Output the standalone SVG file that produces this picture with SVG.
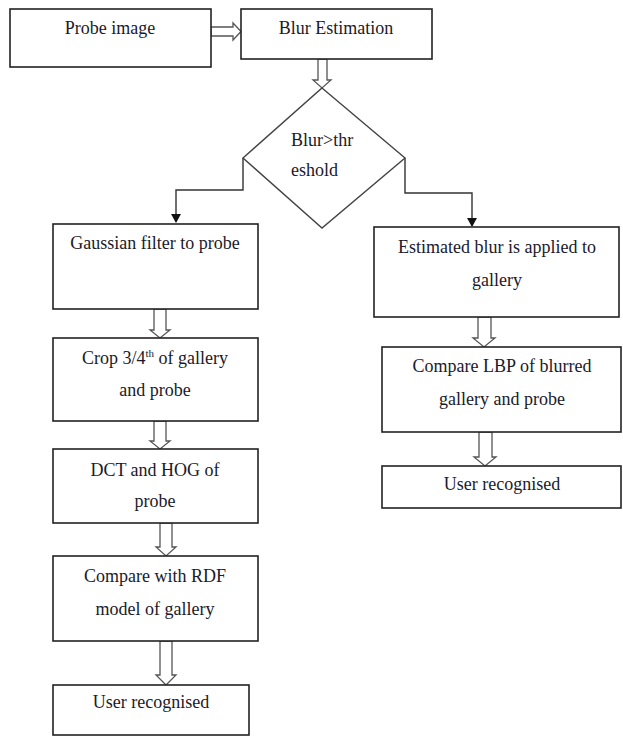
<svg xmlns="http://www.w3.org/2000/svg" width="623" height="738" viewBox="0 0 623 738">
<style>
.box{fill:#fff;stroke:#222;stroke-width:1.6}
.t{font-family:"Liberation Serif","Times New Roman",serif;font-size:18px;fill:#1a1a2a;text-anchor:middle}
.s{text-anchor:start}
.ha{fill:#fff;stroke:#555;stroke-width:1.3}
.ln{fill:none;stroke:#333;stroke-width:1.4}
</style>
<defs>
<marker id="ah" markerWidth="10" markerHeight="10" refX="8" refY="5" orient="auto" markerUnits="userSpaceOnUse">
<path d="M0,0 L9,5 L0,10 Z" fill="#111"/>
</marker>
</defs>
<rect width="623" height="738" fill="#fff"/>
<g id="connectors">
<polygon class="ha" points="211,27 233,27 233,23 241,31.5 233,40 233,36 211,36"/>
<polygon class="ha" points="318,59 327,59 327,80 331,80 322,88 313,80 318,80"/>
<polyline class="ln" points="243,158 243,190 176,190 176,222" marker-end="url(#ah)"/>
<polyline class="ln" points="405,158 405,193 472,193 472,226" marker-end="url(#ah)"/>
<polygon class="ha" points="154,309 166,309 166,330 170,330 160,338 150,330 154,330"/>
<polygon class="ha" points="154,421 166,421 166,441 170,441 160,449 150,441 154,441"/>
<polygon class="ha" points="160,523 172,523 172,547 176,547 166,556 156,547 160,547"/>
<polygon class="ha" points="160,641 172,641 172,675 176,675 166,685 156,675 160,675"/>
<polygon class="ha" points="478,317 491,317 491,338 495,338 484,347 473,338 478,338"/>
<polygon class="ha" points="479,432 492,432 492,457 496,457 485,466 474,457 479,457"/>
</g>
<g id="probe"><rect class="box" x="10" y="9" width="201" height="58"/><text class="t" x="110" y="34">Probe image</text></g>
<g id="blurest"><rect class="box" x="241" y="9" width="191" height="50"/><text class="t" x="336" y="34">Blur Estimation</text></g>
<g id="decision"><polygon points="322,88 405,158 322,228 243,158" fill="#fff" stroke="#444" stroke-width="1.4"/><text class="t s" x="291" y="146">Blur&gt;thr</text><text class="t s" x="291" y="176">eshold</text></g>
<g id="gaussian"><rect class="box" x="53" y="224" width="205" height="85"/><text class="t" x="155" y="249">Gaussian filter to probe</text></g>
<g id="crop"><rect class="box" x="53" y="338" width="205" height="83"/><text class="t" x="155" y="364">Crop 3/4<tspan font-size="11" dy="-7">th</tspan><tspan dy="7"> of gallery</tspan></text><text class="t" x="155" y="396">and probe</text></g>
<g id="dct"><rect class="box" x="53" y="449" width="205" height="74"/><text class="t" x="155" y="476">DCT and HOG of</text><text class="t" x="155" y="507">probe</text></g>
<g id="rdf"><rect class="box" x="53" y="556" width="205" height="85"/><text class="t" x="155" y="582">Compare with RDF</text><text class="t" x="155" y="615">model of gallery</text></g>
<g id="user1"><rect class="box" x="53" y="685" width="196" height="50"/><text class="t" x="151" y="708">User recognised</text></g>
<g id="estimated"><rect class="box" x="374" y="227" width="245" height="90"/><text class="t" x="497" y="253">Estimated blur is applied to</text><text class="t" x="497" y="286">gallery</text></g>
<g id="lbp"><rect class="box" x="382" y="347" width="239" height="85"/><text class="t" x="502" y="372">Compare LBP of blurred</text><text class="t" x="502" y="405">gallery and probe</text></g>
<g id="user2"><rect class="box" x="382" y="466" width="239" height="42"/><text class="t" x="502" y="490">User recognised</text></g>
</svg>
